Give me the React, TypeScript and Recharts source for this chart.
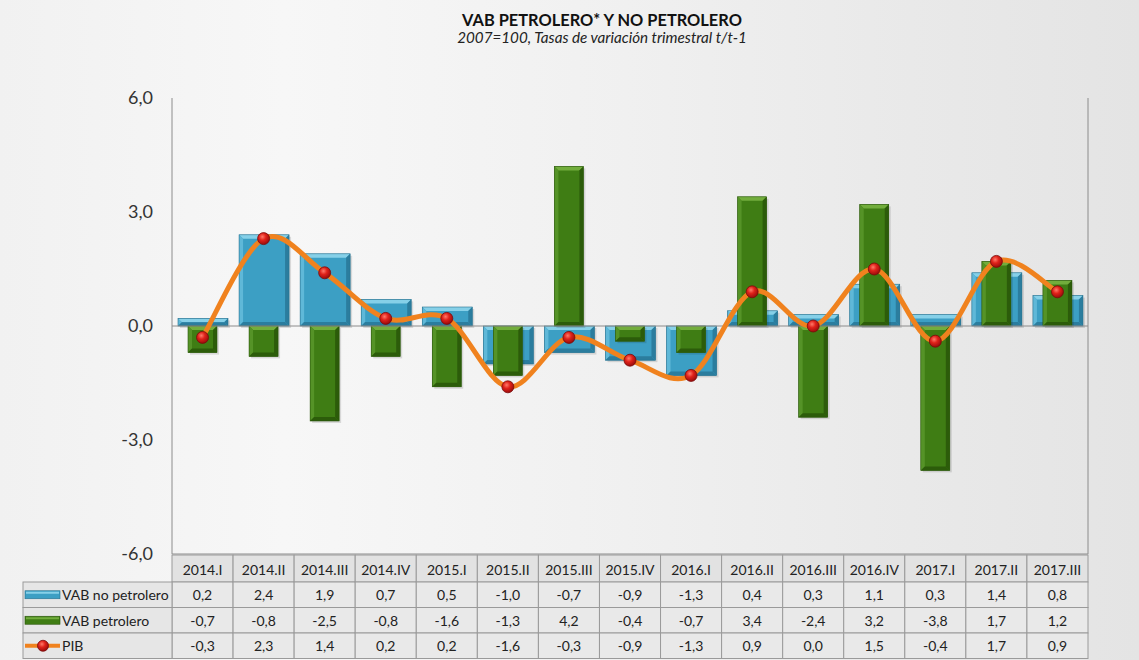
import React from 'react';
import { ComposedChart, Bar, Line, XAxis, YAxis, ReferenceLine } from 'recharts';

const categories = ['2014.I', '2014.II', '2014.III', '2014.IV', '2015.I', '2015.II', '2015.III', '2015.IV', '2016.I', '2016.II', '2016.III', '2016.IV', '2017.I', '2017.II', '2017.III'];
const vabNoPetrolero = [0.2, 2.4, 1.9, 0.7, 0.5, -1.0, -0.7, -0.9, -1.3, 0.4, 0.3, 1.1, 0.3, 1.4, 0.8];
const vabPetrolero = [-0.7, -0.8, -2.5, -0.8, -1.6, -1.3, 4.2, -0.4, -0.7, 3.4, -2.4, 3.2, -3.8, 1.7, 1.2];
const pib = [-0.3, 2.3, 1.4, 0.2, 0.2, -1.6, -0.3, -0.9, -1.3, 0.9, 0.0, 1.5, -0.4, 1.7, 0.9];
const yTicks = [-6, -3, 0, 3, 6];
const seriesNames = ['VAB no petrolero', 'VAB petrolero', 'PIB'];
const title = 'VAB PETROLERO* Y NO PETROLERO';
const subtitle = '2007=100, Tasas de variación trimestral t/t-1';

const data = categories.map((c, i) => ({ cat: c, noPet: vabNoPetrolero[i], pet: vabPetrolero[i], pib: pib[i] }));

const W = 1139;
const H = 660;
const PLOT_LEFT = 172;
const PLOT_RIGHT = 1088;
const PLOT_TOP = 98;
const AXIS_H = 106;
const COLW = (PLOT_RIGHT - PLOT_LEFT) / categories.length;
const LABEL_W = 149;
const HEADER_H = 27;
const ROW_H = 25.5;
const FONT = 'Lato, "Open Sans", sans-serif';

const fmt = (v: number) => v.toFixed(1).replace('.', ',');

const BLUE = { main: '#3c9fc4', light: '#86d0e8', light2: '#5fb8d8', dark: '#2b7d9e', edge: '#26708e' };
const GREEN = { main: '#3f7d14', light: '#72ad3c', light2: '#559327', dark: '#2c5c0a', edge: '#2a560a' };

// Excel-like smoothed line (uniform Catmull-Rom through the points)
const smoothCurve: any = (context: any) => {
  let pts: number[][] = [];
  return {
    areaStart() {},
    areaEnd() {},
    lineStart() { pts = []; },
    point(x: number, y: number) { pts.push([+x, +y]); },
    lineEnd() {
      if (!pts.length) return;
      context.moveTo(pts[0][0], pts[0][1]);
      for (let i = 0; i < pts.length - 1; i++) {
        const p0 = pts[i - 1] || pts[i];
        const p1 = pts[i];
        const p2 = pts[i + 1];
        const p3 = pts[i + 2] || p2;
        const c1x = p1[0] + (p2[0] - p0[0]) / 6;
        const c1y = p1[1] + (p2[1] - p0[1]) / 6;
        const c2x = p2[0] - (p3[0] - p1[0]) / 6;
        const c2y = p2[1] - (p3[1] - p1[1]) / 6;
        context.bezierCurveTo(c1x, c1y, c2x, c2y, p2[0], p2[1]);
      }
    },
  };
};

const makeBevelBar = (c: typeof BLUE) => (props: any) => {
  const { x, y, width, height } = props;
  if (x == null || y == null || !width || height == null) return <g />;
  const top = Math.min(y, y + height);
  const h = Math.abs(height);
  if (h < 0.5) return <g />;
  const b = Math.min(4, h / 2, width / 2);
  const r = x + width;
  const bt = top + h;
  return (
    <g>
      <rect x={x + 2} y={top + 2} width={width} height={h} fill="rgba(0,0,0,0.12)" />
      <rect x={x} y={top} width={width} height={h} fill={c.main} />
      <polygon points={`${x},${top} ${r},${top} ${r - b},${top + b} ${x + b},${top + b}`} fill={c.light} />
      <polygon points={`${x},${top} ${x + b},${top + b} ${x + b},${bt - b} ${x},${bt}`} fill={c.light2} />
      <polygon points={`${r},${top} ${r},${bt} ${r - b},${bt - b} ${r - b},${top + b}`} fill={c.dark} />
      <polygon points={`${x},${bt} ${r},${bt} ${r - b},${bt - b} ${x + b},${bt - b}`} fill={c.dark} />
      <rect x={x} y={top} width={width} height={h} fill="none" stroke={c.edge} strokeWidth={0.6} />
    </g>
  );
};

const BlueBar = makeBevelBar(BLUE);
const GreenBar = makeBevelBar(GREEN);

const cellText = { fontFamily: FONT, fontSize: 14, fill: '#222' };

const LabelColumn = ({ right, y0 }: { right: number; y0: number }) => {
  const left = right - LABEL_W;
  const rowsTop = y0 + HEADER_H;
  return (
    <g>
      {seriesNames.map((name, k) => {
        const ry = rowsTop + k * ROW_H;
        const cy = ry + ROW_H / 2;
        return (
          <g key={name}>
            <rect x={left} y={ry} width={LABEL_W} height={ROW_H} fill="#e6e6e6" stroke="#9a9a9a" strokeWidth={1} />
            {k === 0 && (
              <g>
                <rect x={left + 2} y={cy - 4} width={35} height={8} fill={BLUE.main} stroke={BLUE.edge} strokeWidth={0.6} />
                <rect x={left + 3} y={cy - 3} width={33} height={2} fill={BLUE.light} />
              </g>
            )}
            {k === 1 && (
              <g>
                <rect x={left + 2} y={cy - 4} width={35} height={8} fill={GREEN.main} stroke={GREEN.edge} strokeWidth={0.6} />
                <rect x={left + 3} y={cy - 3} width={33} height={2} fill={GREEN.light} />
              </g>
            )}
            {k === 2 && (
              <g>
                <line x1={left + 2} x2={left + 37} y1={cy} y2={cy} stroke="#f0821e" strokeWidth={4} />
                <circle cx={left + 20} cy={cy} r={5.5} fill="url(#redDot)" stroke="#7a0a0a" strokeWidth={0.8} />
              </g>
            )}
            <text x={left + 39} y={cy} dominantBaseline="central" {...cellText}>{name}</text>
          </g>
        );
      })}
    </g>
  );
};

const TableTick = (props: any) => {
  const { x, y, payload } = props;
  const i = categories.indexOf(payload.value);
  const left = x - COLW / 2;
  const y0 = y + 1;
  const rows = [vabNoPetrolero, vabPetrolero, pib];
  return (
    <g>
      <rect x={left} y={y0} width={COLW} height={HEADER_H} fill="#e2e2e2" stroke="#9a9a9a" strokeWidth={1} />
      <text x={x} y={y0 + HEADER_H / 2 + 1} textAnchor="middle" dominantBaseline="central" {...cellText}>{payload.value}</text>
      {rows.map((r, k) => {
        const ry = y0 + HEADER_H + k * ROW_H;
        return (
          <g key={k}>
            <rect x={left} y={ry} width={COLW} height={ROW_H} fill="#e9e9e9" stroke="#9a9a9a" strokeWidth={1} />
            <text x={x} y={ry + ROW_H / 2} textAnchor="middle" dominantBaseline="central" {...cellText}>{fmt(r[i])}</text>
          </g>
        );
      })}
      {i === 0 && <LabelColumn right={left} y0={y0} />}
    </g>
  );
};

export default function App() {
  return (
    <div
      style={{
        position: 'absolute',
        left: 0,
        top: 0,
        width: W,
        height: H,
        background: 'linear-gradient(to right, #f1f1f1 0%, #f7f7f7 25%, #f0f0f0 55%, #e9e9e9 80%, #e4e4e4 100%)',
        overflow: 'hidden',
      }}
    >
      <svg width={W} height={60} style={{ position: 'absolute', left: 0, top: 0 }}>
        <text x={602} y={26} textAnchor="middle" fontFamily={FONT} fontWeight="bold" fontSize={16.4} fill="#111">{title}</text>
        <text x={602} y={43} textAnchor="middle" fontFamily={FONT} fontStyle="italic" fontSize={15.2} fill="#222">{subtitle}</text>
      </svg>
      <div style={{ position: 'absolute', left: 0, top: 0 }}>
        <ComposedChart
          width={W}
          height={H}
          data={data}
          margin={{ top: PLOT_TOP, right: 0, bottom: 0, left: 0 }}
        >
          <defs>
            <radialGradient id="redDot" cx="40%" cy="35%" r="65%">
              <stop offset="0%" stopColor="#ff7a6a" />
              <stop offset="45%" stopColor="#e0221a" />
              <stop offset="100%" stopColor="#9a0c0c" />
            </radialGradient>
          </defs>
          <XAxis
            xAxisId="a"
            dataKey="cat"
            height={AXIS_H}
            interval={0}
            axisLine={{ stroke: '#8c8c8c' }}
            tickLine={false}
            tickSize={0}
            tickMargin={0}
            tick={<TableTick />}
          />
          <XAxis xAxisId="b" dataKey="cat" hide />
          <YAxis
            yAxisId="left"
            orientation="left"
            width={PLOT_LEFT}
            domain={[-6, 6]}
            ticks={yTicks}
            tickFormatter={fmt}
            axisLine={{ stroke: '#8c8c8c' }}
            tickLine={false}
            tickSize={0}
            tickMargin={19}
            tick={{ fill: '#333', fontSize: 18, fontFamily: FONT }}
          />
          <YAxis
            yAxisId="right"
            orientation="right"
            width={W - PLOT_RIGHT}
            domain={[-6, 6]}
            ticks={yTicks}
            tickFormatter={fmt}
            axisLine={{ stroke: '#8c8c8c' }}
            tickLine={{ stroke: '#8c8c8c' }}
            tickSize={6}
            tickMargin={11}
            tick={{ fill: '#333', fontSize: 18, fontFamily: FONT, textAnchor: 'start' }}
          />
          <ReferenceLine yAxisId="left" xAxisId="a" y={0} stroke="#8c8c8c" strokeWidth={1} />
          <Bar xAxisId="a" yAxisId="left" dataKey="noPet" barSize={50} shape={BlueBar} isAnimationActive={false} />
          <Bar xAxisId="b" yAxisId="left" dataKey="pet" barSize={29} shape={GreenBar} isAnimationActive={false} />
          <Line
            xAxisId="a"
            yAxisId="left"
            dataKey="pib"
            type={smoothCurve}
            stroke="#f0821e"
            strokeWidth={5}
            dot={{ r: 6, fill: 'url(#redDot)', stroke: '#7a0a0a', strokeWidth: 0.8 }}
            activeDot={false}
            isAnimationActive={false}
          />
        </ComposedChart>
      </div>
    </div>
  );
}
